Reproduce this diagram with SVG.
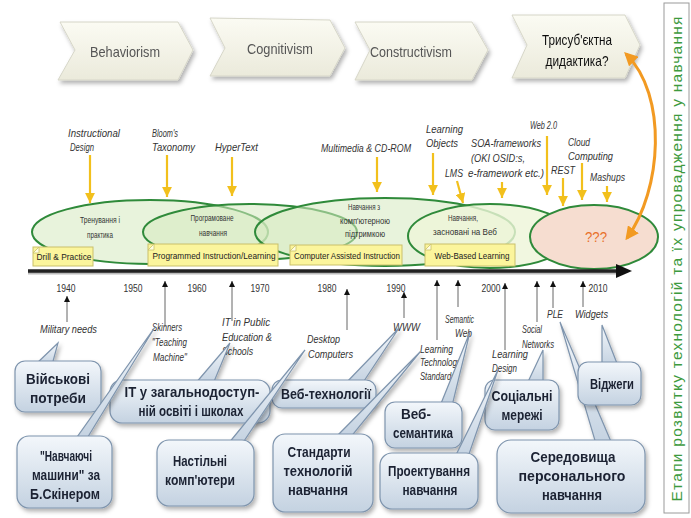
<svg xmlns="http://www.w3.org/2000/svg" width="691" height="518" viewBox="0 0 691 518">
<defs>
<style>
text{font-family:"Liberation Sans Narrow","Arial Narrow","Liberation Sans",Arial,sans-serif}
.chev{fill:url(#gChev);stroke:#d6d6c8;stroke-width:1}
.chevt{font-size:15px;fill:#555;text-anchor:middle}
.ell{fill:#d6eabf;fill-opacity:0.55;stroke:#2f8a3a;stroke-width:2}
.et{font-size:9px;fill:#333;text-anchor:middle}
.note{fill:#fbf59c;stroke:#c9c06a;stroke-width:1}
.fold{fill:#fffde0;stroke:#c9c06a;stroke-width:0.8}
.nt{font-size:9.5px;fill:#222;text-anchor:middle}
.lab{font-size:10.5px;font-style:italic;fill:#333}
.yr{font-size:10px;fill:#333;text-anchor:middle}
.ya{stroke:#f2c01c;stroke-width:2.2;fill:none;marker-end:url(#mY)}
.ba{stroke:#666;stroke-width:1;fill:none;marker-end:url(#mB)}
.bub{fill:url(#gBub);stroke:#7e94ad;stroke-width:1.2}
.bt{font-size:15px;font-weight:bold;fill:#1b2233;text-anchor:middle}
</style>
<linearGradient id="gChev" x1="0" y1="0" x2="0" y2="1">
<stop offset="0" stop-color="#fbfbf3"/><stop offset="1" stop-color="#ebeadb"/>
</linearGradient>
<linearGradient id="gBub" x1="0" y1="0" x2="0" y2="1">
<stop offset="0" stop-color="#f3f7fb"/><stop offset="1" stop-color="#c4d2e1"/>
</linearGradient>
<filter id="sh" x="-20%" y="-20%" width="150%" height="160%">
<feDropShadow dx="2" dy="3" stdDeviation="2" flood-color="#000" flood-opacity="0.3"/>
</filter>
<marker id="mY" viewBox="0 0 10 10" refX="10" refY="5" markerWidth="4.5" markerHeight="4.5" orient="auto" markerUnits="strokeWidth">
<path d="M0,0 L10,5 L0,10 z" fill="#f2c01c"/>
</marker>
<marker id="mB" viewBox="0 0 10 10" refX="10" refY="5" markerWidth="9" markerHeight="6" orient="auto" markerUnits="strokeWidth">
<path d="M0,0 L10,5 L0,10 z" fill="#111"/>
</marker>
<marker id="mO" viewBox="0 0 10 10" refX="8" refY="5" markerWidth="4.5" markerHeight="4.5" orient="auto-start-reverse" markerUnits="strokeWidth">
<path d="M0,0 L10,5 L0,10 z" fill="#f29a22"/>
</marker>
</defs>
<rect width="691" height="518" fill="#fff"/>

<!-- chevrons -->
<g id="behaviorism" filter="url(#sh)">
<polygon class="chev" points="60,22 178,22 193,50 178,80 58,80 75,50"/>
<text class="chevt" x="125" y="57" textLength="70" lengthAdjust="spacingAndGlyphs">Behaviorism</text>
</g>
<g id="cognitivism" filter="url(#sh)">
<polygon class="chev" points="210,18 330,20 345,48 330,76 210,76 225,48"/>
<text class="chevt" x="280" y="54" textLength="66" lengthAdjust="spacingAndGlyphs">Cognitivism</text>
</g>
<g id="constructivism" filter="url(#sh)">
<polygon class="chev" points="355,22 472,22 488,50 472,80 355,80 370,50"/>
<text class="chevt" x="411" y="57" textLength="82" lengthAdjust="spacingAndGlyphs">Constructivism</text>
</g>
<g id="trisubject" filter="url(#sh)">
<polygon class="chev" points="512,15 625,15 640,45 625,78 512,78 527,45"/>
<text class="chevt" x="577" y="45" style="fill:#111" textLength="70" lengthAdjust="spacingAndGlyphs">Трисуб'єктна</text>
<text class="chevt" x="577" y="66" style="fill:#111" textLength="63" lengthAdjust="spacingAndGlyphs">дидактика?</text>
</g>

<!-- side title -->
<g id="side-title">
<rect x="664" y="3" width="25" height="510" fill="#fff" stroke="#9a9a9a" stroke-width="1"/>
<text x="0" y="0" transform="translate(682,259) rotate(-90)" text-anchor="middle" style="font-family:'Liberation Sans',Arial,sans-serif" font-size="15.5" fill="#3d9a3d" textLength="485" lengthAdjust="spacing">Етапи розвитку технологій та їх упровадження у навчання</text>
</g>

<!-- ellipses -->
<g id="drill">
<ellipse class="ell" cx="150" cy="232" rx="118" ry="32"/>
<text class="et" x="100" y="223" textLength="40" lengthAdjust="spacingAndGlyphs">Тренування і</text>
<text class="et" x="100" y="238" textLength="26" lengthAdjust="spacingAndGlyphs">практика</text>
</g>
<g id="programmed">
<ellipse class="ell" cx="250" cy="232" rx="107" ry="28"/>
<text class="et" x="212" y="221" textLength="43" lengthAdjust="spacingAndGlyphs">Програмоване</text>
<text class="et" x="213" y="236" textLength="28" lengthAdjust="spacingAndGlyphs">навчання</text>
</g>
<g id="cai">
<ellipse class="ell" cx="385" cy="232" rx="130" ry="34"/>
<text class="et" x="364" y="210" textLength="32" lengthAdjust="spacingAndGlyphs">Навчання з</text>
<text class="et" x="365" y="224" textLength="50" lengthAdjust="spacingAndGlyphs">комп'ютерною</text>
<text class="et" x="365" y="237" textLength="40" lengthAdjust="spacingAndGlyphs">підтримкою</text>
</g>
<g id="web-based">
<ellipse class="ell" cx="490" cy="236" rx="82" ry="32" style="fill:#eef5d8;fill-opacity:0.8"/>
<text class="et" x="463" y="221" textLength="30" lengthAdjust="spacingAndGlyphs">Навчання,</text>
<text class="et" x="465" y="235" textLength="64" lengthAdjust="spacingAndGlyphs">засновані на Веб</text>
</g>
<g id="unknown">
<ellipse cx="594" cy="237" rx="64" ry="32" fill="#f6ddd0" stroke="#2f8a3a" stroke-width="2"/>
<text x="596" y="242" text-anchor="middle" font-size="15" fill="#e8702a" textLength="22" lengthAdjust="spacingAndGlyphs">???</text>
</g>

<!-- notes -->
<g id="note-drill">
<rect class="note" x="33" y="247" width="60" height="19"/>
<polygon class="fold" points="33,253 39,247 39,253"/>
<text class="nt" x="64" y="260" textLength="55" lengthAdjust="spacingAndGlyphs">Drill &amp; Practice</text>
</g>
<g id="note-programmed">
<rect class="note" x="148" y="244" width="130" height="22"/>
<polygon class="fold" points="148,250 154,244 154,250"/>
<text class="nt" x="214" y="259" textLength="123" lengthAdjust="spacingAndGlyphs">Programmed Instruction/Learning</text>
</g>
<g id="note-cai">
<rect class="note" x="290" y="245" width="112" height="20"/>
<polygon class="fold" points="290,251 296,245 296,251"/>
<text class="nt" x="347" y="259" textLength="106" lengthAdjust="spacingAndGlyphs">Computer Assisted Instruction</text>
</g>
<g id="note-wbl">
<rect class="note" x="425" y="244" width="90" height="22"/>
<polygon class="fold" points="425,250 431,244 431,250"/>
<text class="nt" x="472" y="259" textLength="75" lengthAdjust="spacingAndGlyphs">Web-Based Learning</text>
</g>

<!-- timeline -->
<g id="timeline">
<line x1="28" y1="273" x2="620" y2="273" stroke="#bbb" stroke-width="3"/>
<line x1="28" y1="271" x2="618" y2="271" stroke="#222" stroke-width="3.5"/>
<polygon points="616,264 632,271 616,278" fill="#111"/>
<text class="yr" x="66" y="292" textLength="19" lengthAdjust="spacingAndGlyphs">1940</text>
<text class="yr" x="133" y="292" textLength="19" lengthAdjust="spacingAndGlyphs">1950</text>
<text class="yr" x="197" y="292" textLength="19" lengthAdjust="spacingAndGlyphs">1960</text>
<text class="yr" x="260" y="292" textLength="19" lengthAdjust="spacingAndGlyphs">1970</text>
<text class="yr" x="327" y="292" textLength="19" lengthAdjust="spacingAndGlyphs">1980</text>
<text class="yr" x="396" y="292" textLength="19" lengthAdjust="spacingAndGlyphs">1990</text>
<text class="yr" x="491" y="292" textLength="19" lengthAdjust="spacingAndGlyphs">2000</text>
<text class="yr" x="598" y="292" textLength="19" lengthAdjust="spacingAndGlyphs">2010</text>
</g>

<!-- top labels -->
<g id="top-labels">
<text class="lab" x="68" y="137" textLength="52" lengthAdjust="spacingAndGlyphs">Instructional</text>
<text class="lab" x="70" y="151" textLength="24" lengthAdjust="spacingAndGlyphs">Design</text>
<text class="lab" x="152" y="137" textLength="26" lengthAdjust="spacingAndGlyphs">Bloom's</text>
<text class="lab" x="152" y="151" textLength="43" lengthAdjust="spacingAndGlyphs">Taxonomy</text>
<text class="lab" x="215" y="151" textLength="43" lengthAdjust="spacingAndGlyphs">HyperText</text>
<text class="lab" x="321" y="152" textLength="90" lengthAdjust="spacingAndGlyphs">Multimedia &amp; CD-ROM</text>
<text class="lab" x="426" y="133" textLength="37" lengthAdjust="spacingAndGlyphs">Learning</text>
<text class="lab" x="426" y="147" textLength="32" lengthAdjust="spacingAndGlyphs">Objects</text>
<text class="lab" x="445" y="177" textLength="18" lengthAdjust="spacingAndGlyphs">LMS</text>
<text class="lab" x="471" y="147" textLength="70" lengthAdjust="spacingAndGlyphs">SOA-frameworks</text>
<text class="lab" x="471" y="162" textLength="54" lengthAdjust="spacingAndGlyphs">(OKI OSID:s,</text>
<text class="lab" x="468" y="177" textLength="76" lengthAdjust="spacingAndGlyphs">e-framework etc.)</text>
<text class="lab" x="530" y="129" textLength="27" lengthAdjust="spacingAndGlyphs">Web 2.0</text>
<text class="lab" x="551" y="174" textLength="24" lengthAdjust="spacingAndGlyphs">REST</text>
<text class="lab" x="568" y="146" textLength="22" lengthAdjust="spacingAndGlyphs">Cloud</text>
<text class="lab" x="568" y="160" textLength="45" lengthAdjust="spacingAndGlyphs">Computing</text>
<text class="lab" x="590" y="181" textLength="35" lengthAdjust="spacingAndGlyphs">Mashups</text>
</g>

<!-- bottom labels -->
<g id="bottom-labels">
<text class="lab" x="40" y="333" textLength="57" lengthAdjust="spacingAndGlyphs">Military needs</text>
<text class="lab" x="152" y="331" textLength="30" lengthAdjust="spacingAndGlyphs">Skinners</text>
<text class="lab" x="152" y="346" textLength="35" lengthAdjust="spacingAndGlyphs">"Teaching</text>
<text class="lab" x="153" y="361" textLength="34" lengthAdjust="spacingAndGlyphs">Machine"</text>
<text class="lab" x="222" y="326" textLength="48" lengthAdjust="spacingAndGlyphs">IT in Public</text>
<text class="lab" x="222" y="341" textLength="50" lengthAdjust="spacingAndGlyphs">Education &amp;</text>
<text class="lab" x="222" y="355" textLength="31" lengthAdjust="spacingAndGlyphs">Schools</text>
<text class="lab" x="307" y="343" textLength="33" lengthAdjust="spacingAndGlyphs">Desktop</text>
<text class="lab" x="308" y="358" textLength="45" lengthAdjust="spacingAndGlyphs">Computers</text>
<text class="lab" x="393" y="331" textLength="27" lengthAdjust="spacingAndGlyphs">WWW</text>
<text class="lab" x="445" y="323" textLength="29" lengthAdjust="spacingAndGlyphs">Semantic</text>
<text class="lab" x="455" y="337" textLength="17" lengthAdjust="spacingAndGlyphs">Web</text>
<text class="lab" x="420" y="353" textLength="33" lengthAdjust="spacingAndGlyphs">Learning</text>
<text class="lab" x="420" y="366" textLength="41" lengthAdjust="spacingAndGlyphs">Technology</text>
<text class="lab" x="420" y="380" textLength="35" lengthAdjust="spacingAndGlyphs">Standards</text>
<text class="lab" x="492" y="358" textLength="36" lengthAdjust="spacingAndGlyphs">Learning</text>
<text class="lab" x="492" y="372" textLength="25" lengthAdjust="spacingAndGlyphs">Design</text>
<text class="lab" x="522" y="333" textLength="20" lengthAdjust="spacingAndGlyphs">Social</text>
<text class="lab" x="522" y="348" textLength="32" lengthAdjust="spacingAndGlyphs">Networks</text>
<text class="lab" x="547" y="318" textLength="16" lengthAdjust="spacingAndGlyphs">PLE</text>
<text class="lab" x="575" y="318" textLength="33" lengthAdjust="spacingAndGlyphs">Widgets</text>
</g>

<!-- connectors -->
<g id="connectors">
<line class="ya" x1="90" y1="155" x2="90" y2="203"/>
<line class="ya" x1="167" y1="155" x2="167" y2="197"/>
<line class="ya" x1="232" y1="157" x2="232" y2="196"/>
<line class="ya" x1="377" y1="157" x2="377" y2="192"/>
<line class="ya" x1="433" y1="153" x2="433" y2="195"/>
<line class="ya" x1="457" y1="181" x2="463" y2="203"/>
<line class="ya" x1="502" y1="182" x2="502" y2="198"/>
<line class="ya" x1="547" y1="136" x2="547" y2="195"/>
<line class="ya" x1="563" y1="178" x2="563" y2="206"/>
<line class="ya" x1="582" y1="163" x2="582" y2="200"/>
<line class="ya" x1="607" y1="186" x2="607" y2="202"/>
<line class="ba" x1="67" y1="322" x2="67" y2="296"/>
<line class="ba" x1="165" y1="327" x2="165" y2="281"/>
<line class="ba" x1="232" y1="321" x2="232" y2="281"/>
<line class="ba" x1="347" y1="330" x2="347" y2="289"/>
<line class="ba" x1="404" y1="318" x2="404" y2="292"/>
<line class="ba" x1="437" y1="340" x2="437" y2="280"/>
<line class="ba" x1="458" y1="307" x2="458" y2="280"/>
<line class="ba" x1="505" y1="350" x2="505" y2="283"/>
<line class="ba" x1="537" y1="322" x2="537" y2="281"/>
<line class="ba" x1="553" y1="308" x2="553" y2="281"/>
<line class="ba" x1="583" y1="307" x2="583" y2="281"/>
<path d="M627,238 C662,190 668,95 626,54" fill="none" stroke="#f29a22" stroke-width="3" marker-start="url(#mO)" marker-end="url(#mO)"/>
</g>

<!-- callouts -->
<g id="c-military" filter="url(#sh)">
<polygon class="bub" points="35,365 52,365 58,343"/>
<rect class="bub" x="15" y="361" width="86" height="51" rx="10"/>
<text class="bt" x="58" y="384" textLength="64" lengthAdjust="spacingAndGlyphs">Військові</text>
<text class="bt" x="58" y="403" textLength="56" lengthAdjust="spacingAndGlyphs">потреби</text>
</g>
<g id="c-itpublic" filter="url(#sh)">
<polygon class="bub" points="195,384 213,384 230,343"/>
<rect class="bub" x="110" y="380" width="160" height="43" rx="12"/>
<text class="bt" x="192" y="397" textLength="135" lengthAdjust="spacingAndGlyphs">IT у загальнодоступ-</text>
<text class="bt" x="191" y="416" textLength="105" lengthAdjust="spacingAndGlyphs">ній освіті і школах</text>
</g>
<g id="c-webtech" filter="url(#sh)">
<polygon class="bub" points="345,384 362,384 399,328"/>
<rect class="bub" x="272" y="380" width="104" height="28" rx="10"/>
<text class="bt" x="326" y="399" textLength="90" lengthAdjust="spacingAndGlyphs">Веб-технології</text>
</g>
<g id="c-social" filter="url(#sh)">
<polygon class="bub" points="527,384 543,384 543,350"/>
<rect class="bub" x="485" y="380" width="74" height="50" rx="10"/>
<text class="bt" x="522" y="401" textLength="61" lengthAdjust="spacingAndGlyphs">Соціальні</text>
<text class="bt" x="522" y="420" textLength="41" lengthAdjust="spacingAndGlyphs">мережі</text>
</g>
<g id="c-ple" filter="url(#sh)">
<polygon class="bub" points="596,444 612,444 560,322"/>
<rect class="bub" x="497" y="440" width="148" height="73" rx="14"/>
<text class="bt" x="573" y="462" textLength="85" lengthAdjust="spacingAndGlyphs">Середовища</text>
<text class="bt" x="572" y="481" textLength="107" lengthAdjust="spacingAndGlyphs">персонального</text>
<text class="bt" x="572" y="500" textLength="60" lengthAdjust="spacingAndGlyphs">навчання</text>
</g>
<g id="c-widgets" filter="url(#sh)">
<polygon class="bub" points="602,366 618,366 602,325"/>
<rect class="bub" x="578" y="362" width="63" height="43" rx="10"/>
<text class="bt" x="612" y="389" textLength="44" lengthAdjust="spacingAndGlyphs">Віджеги</text>
</g>
<g id="c-semantic" filter="url(#sh)">
<polygon class="bub" points="440,406 452,406 470,332"/>
<rect class="bub" x="385" y="402" width="77" height="46" rx="10"/>
<text class="bt" x="416" y="419" textLength="30" lengthAdjust="spacingAndGlyphs">Веб-</text>
<text class="bt" x="423" y="438" textLength="60" lengthAdjust="spacingAndGlyphs">семантика</text>
</g>
<g id="c-skinner" filter="url(#sh)">
<polygon class="bub" points="75,440 86,440 155,327"/>
<rect class="bub" x="17" y="436" width="95" height="72" rx="12"/>
<text class="bt" x="66" y="461" textLength="52" lengthAdjust="spacingAndGlyphs">"Навчаючі</text>
<text class="bt" x="66" y="480" textLength="68" lengthAdjust="spacingAndGlyphs">машини" за</text>
<text class="bt" x="65" y="499" textLength="70" lengthAdjust="spacingAndGlyphs">Б.Скінером</text>
</g>
<g id="c-desktop" filter="url(#sh)">
<polygon class="bub" points="228,444 242,444 305,350"/>
<rect class="bub" x="157" y="440" width="97" height="66" rx="12"/>
<text class="bt" x="200" y="466" textLength="54" lengthAdjust="spacingAndGlyphs">Настільні</text>
<text class="bt" x="200" y="485" textLength="70" lengthAdjust="spacingAndGlyphs">комп'ютери</text>
</g>
<g id="c-standards" filter="url(#sh)">
<polygon class="bub" points="335,438 350,438 420,352"/>
<rect class="bub" x="273" y="434" width="100" height="78" rx="12"/>
<text class="bt" x="319" y="457" textLength="63" lengthAdjust="spacingAndGlyphs">Стандарти</text>
<text class="bt" x="318" y="476" textLength="69" lengthAdjust="spacingAndGlyphs">технологій</text>
<text class="bt" x="318" y="495" textLength="60" lengthAdjust="spacingAndGlyphs">навчання</text>
</g>
<g id="c-design" filter="url(#sh)">
<polygon class="bub" points="455,457 468,457 498,370"/>
<rect class="bub" x="380" y="453" width="98" height="56" rx="12"/>
<text class="bt" x="429" y="476" textLength="82" lengthAdjust="spacingAndGlyphs">Проектування</text>
<text class="bt" x="430" y="495" textLength="55" lengthAdjust="spacingAndGlyphs">навчання</text>
</g>
</svg>
